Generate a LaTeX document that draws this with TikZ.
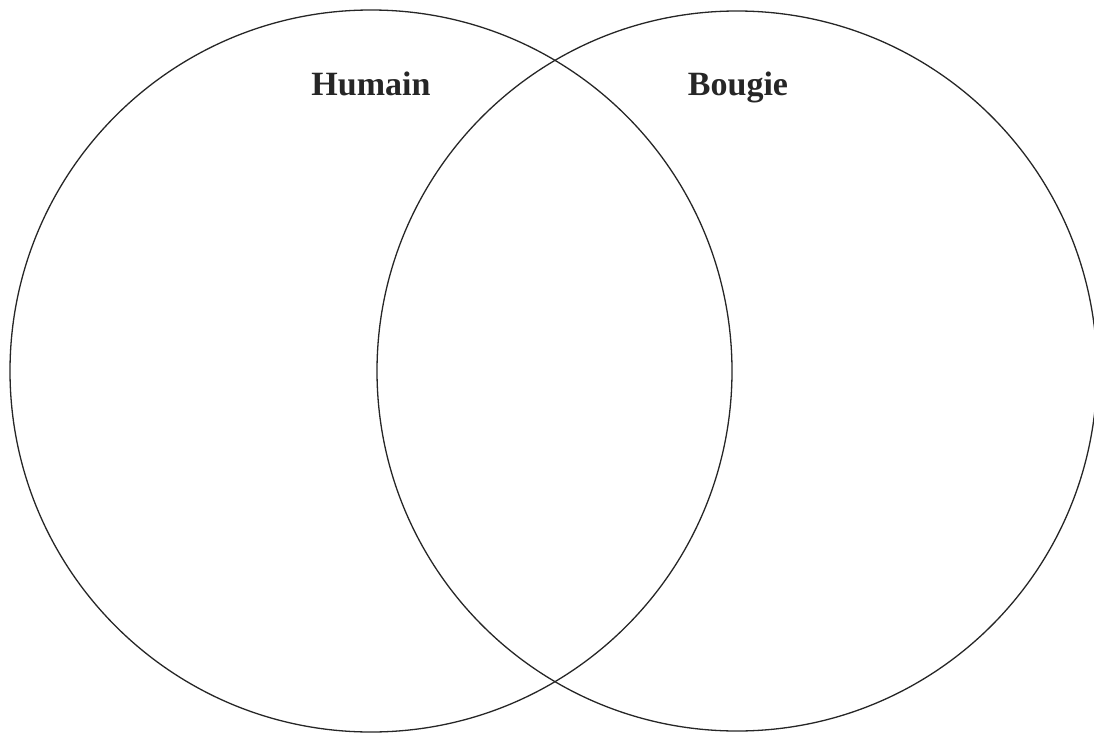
\documentclass[tikz,border=0pt]{standalone}
\usepackage{fontspec}
\setmainfont{Liberation Serif}
\begin{document}
\begin{tikzpicture}[x=1pt,y=-1pt,
  setcircle/.style={draw=black!85,line width=1.3pt},
  setlabel/.style={font=\fontsize{34}{40}\selectfont\bfseries,text=black!85,anchor=base,inner sep=0pt}]
\useasboundingbox (0,0) rectangle (1094,733);
\begin{scope}
\clip (0,0) rectangle (1094,733);
\draw[setcircle] (371,371) circle (361);
\draw[setcircle] (737,371) circle (360);
\end{scope}
\node[setlabel] (humain) at (371,96) {Humain};
\node[setlabel] (bougie) at (738,96) {Bougie};
\end{tikzpicture}
\end{document}
